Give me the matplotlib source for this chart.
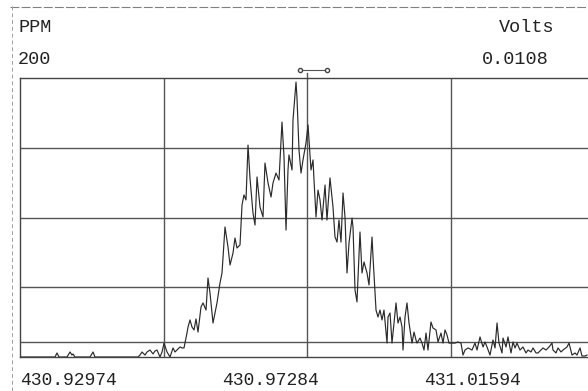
import numpy as np
import matplotlib
matplotlib.use("Agg")
import matplotlib.pyplot as plt
from matplotlib.lines import Line2D

plt.rcParams['font.family'] = ['Liberation Mono', 'DejaVu Sans Mono']

# ---- data (mass vs PPM) ----
mass = [
    430.92974, 430.93614, 430.93721, 430.93764, 430.93806, 430.93977, 430.94041, 430.94083,
    430.94105, 430.94147, 430.94468, 430.94532, 430.94574, 430.95492, 430.95534, 430.95577,
    430.95641, 430.95684, 430.95748, 430.95812, 430.95854, 430.95897, 430.95961, 430.96004,
    430.96047, 430.96111, 430.96175, 430.96239, 430.96281, 430.96388, 430.96431, 430.96473,
    430.96537, 430.96559, 430.96601, 430.96644, 430.96687, 430.96729, 430.96772, 430.96836,
    430.96879, 430.96943, 430.96985, 430.97028, 430.97092, 430.97177, 430.97241, 430.97284,
    430.97348, 430.97412, 430.97455, 430.97519, 430.97561, 430.97604, 430.97668, 430.97711,
    430.97753, 430.97796, 430.97839, 430.97881, 430.97945, 430.97988, 430.98031, 430.98095,
    430.98159, 430.98201, 430.98266, 430.98330, 430.98372, 430.98436, 430.98500, 430.98564,
    430.98607, 430.98650, 430.98692, 430.98713, 430.98778, 430.98799, 430.98863, 430.98884,
    430.98927, 430.98970, 430.99012, 430.99076, 430.99119, 430.99183, 430.99226, 430.99247,
    430.99290, 430.99332, 430.99375, 430.99418, 430.99482, 430.99524, 430.99588, 430.99652,
    430.99695, 430.99738, 430.99780, 430.99823, 430.99866, 430.99908, 430.99951, 430.99994,
    431.00058, 431.00079, 431.00122, 431.00164, 431.00228, 431.00271, 431.00314, 431.00378,
    431.00420, 431.00485, 431.00506, 431.00570, 431.00612, 431.00655, 431.00698, 431.00740,
    431.00805, 431.00826, 431.00869, 431.00911, 431.00954, 431.00997, 431.01039, 431.01082,
    431.01125, 431.01146, 431.01189, 431.01231, 431.01274, 431.01338, 431.01381, 431.01423,
    431.01445, 431.01509, 431.01551, 431.01594, 431.01637, 431.01679, 431.01743, 431.01786,
    431.01850, 431.01893, 431.01957, 431.01999, 431.02042, 431.02085, 431.02127, 431.02191,
    431.02255, 431.02319, 431.02383, 431.02426, 431.02469, 431.02533, 431.02618, 431.02682,
    431.02725, 431.02789, 431.02853, 431.02896, 431.02938, 431.03002, 431.03066, 431.03109,
    431.03152, 431.03194, 431.03258, 431.03280, 431.03344, 431.03386, 431.03450, 431.03493,
    431.03536, 431.03578, 431.03642, 431.03706, 431.03770, 431.03813, 431.03877, 431.03920,
    431.03984, 431.04026, 431.04090, 431.04133, 431.04197, 431.04261, 431.04325, 431.04346,
    431.04410, 431.04453, 431.04517, 431.04560, 431.04645, 431.04688, 431.04752, 431.04816,
    431.04858, 431.04923, 431.04965, 431.05029, 431.05072,
]
ppm = [
    0, 0, 0, 2.9, 0, 0, 3.6, 1.4,
    2.2, 0, 0, 3.6, 0, 0, 1.4, 3.6,
    1.4, 3.6, 5.0, 2.2, 4.3, 5.0, 0, 3.6,
    10.0, 3.6, 0, 6.5, 3.6, 7.2, 6.5, 6.5,
    17.2, 21.5, 26.6, 21.5, 19.4, 27.3, 17.9, 35.9,
    38.8, 33.7, 56.7, 45.9, 24.4, 38.8, 53.1, 60.3,
    93.3, 78.9, 66.0, 74.6, 85.4, 78.2, 80.4, 109.1,
    116.3, 112.7, 152.1, 128.5, 103.3, 94.7, 129.2, 107.6,
    100.5, 139.2, 124.9, 114.8, 124.9, 132.0, 127.0, 168.6,
    143.5, 91.1, 134.2, 145.0, 134.2, 170.1, 197.3, 185.9,
    148.5, 132.0, 141.4, 153.6, 166.5, 134.2, 141.4, 127.0,
    100.5, 119.8, 112.7, 98.3, 123.4, 98.3, 128.5, 107.6,
    86.1, 82.5, 98.3, 82.5, 117.7, 100.5, 60.3, 81.8,
    99.7, 93.3, 48.1, 39.5, 89.7, 60.3, 68.2, 60.3,
    51.7, 86.1, 71.8, 33.7, 28.7, 33.7, 26.6, 33.7,
    10.0, 28.7, 31.6, 10.0, 24.4, 38.8, 24.4, 28.7,
    21.5, 5.0, 28.7, 38.8, 24.4, 10.0, 17.9, 12.2,
    10.0, 13.6, 10.0, 5.0, 17.2, 5.0, 25.1, 20.8,
    19.4, 10.8, 17.2, 10.0, 19.4, 15.8, 10.0, 10.0,
    10.0, 10.8, 10.0, 1.4, 5.0, 6.5, 5.0, 10.0,
    5.0, 14.4, 7.2, 10.8, 7.2, 1.4, 12.2, 6.5,
    24.4, 10.0, 2.9, 13.6, 7.2, 14.4, 2.9, 10.8,
    6.5, 10.0, 5.0, 7.2, 2.9, 5.0, 3.6, 6.5,
    2.9, 2.9, 5.0, 6.5, 5.0, 7.2, 10.0, 5.0,
    2.9, 6.5, 3.6, 5.0, 7.2, 10.0, 1.4, 2.9,
    1.4, 6.5, 0.7, 0.7, 1.4,
]

tick_values = [430.92974, 430.97284, 431.01594]
tick_labels = ["430.92974", "430.97284", "431.01594"]
x_min, x_max = 430.92974, 431.05221
y_max_label = "200"
volts_label = "0.0108"
threshold_ppm = 10.5
window = [430.98948, 430.99524]
window_level = 206

# ---- figure ----
W, H = 588, 391
fig = plt.figure(figsize=(W / 100, H / 100), dpi=100)
fig.patch.set_facecolor('white')
ax = fig.add_axes([20 / W, 34 / H, 574 / W, 278.7 / H])
ax.set_xlim(x_min, x_max)
ax.set_ylim(0, 200)

grid_c = '#555555'
for gx in np.linspace(x_min, x_max, 5)[1:4]:
    ax.axvline(gx, color=grid_c, lw=1.0, zorder=1)
for gy in [50, 100, 150]:
    ax.axhline(gy, color=grid_c, lw=1.0, zorder=1)
ax.axhline(threshold_ppm, color=grid_c, lw=1.0, zorder=1)

ax.plot(mass, ppm, color='#2a2a2a', lw=0.85, zorder=3)

# window marker above the plot
center_x = np.linspace(x_min, x_max, 5)[2]
ax.plot([center_x, center_x], [200, 204], color=grid_c, lw=1.0, clip_on=False)
ax.plot(window, [window_level, window_level], color='#555555', lw=0.8,
        marker='o', markersize=3, markerfacecolor='white', markeredgecolor='#444444',
        clip_on=False)

ax.spines['right'].set_visible(False)
for side in ['top', 'left', 'bottom']:
    ax.spines[side].set_color('#444444')
    ax.spines[side].set_linewidth(1.0)

ax.set_yticks([])
ax.set_xticks(tick_values)
ax.set_xticklabels(tick_labels, ha='left', fontsize=13, color='#222222')
ax.tick_params(axis='x', length=0, pad=11)

# header texts
tc = '#222222'
fig.text(18 / W, 1 - 27.5 / H, "PPM", fontsize=13.3, color=tc, ha='left', va='center')
fig.text(18 / W, 1 - 59.5 / H, y_max_label, fontsize=13.3, color=tc, ha='left', va='center')
fig.text(499 / W, 1 - 27 / H, "Volts", fontsize=13.3, color=tc, ha='left', va='center')
fig.text(482 / W, 1 - 59.5 / H, volts_label, fontsize=13.3, color=tc, ha='left', va='center')

# scanned page border
fig.add_artist(Line2D([10 / W, 1], [1 - 6.5 / H, 1 - 6.5 / H], transform=fig.transFigure,
                      color='#808080', lw=0.8, ls=(0, (8, 2))))
fig.add_artist(Line2D([12 / W, 12 / W], [0, 1 - 6 / H], transform=fig.transFigure,
                      color='#a0a0a0', lw=0.7, ls=(0, (4, 3))))

fig.savefig('out.png', dpi=100, facecolor='white')
